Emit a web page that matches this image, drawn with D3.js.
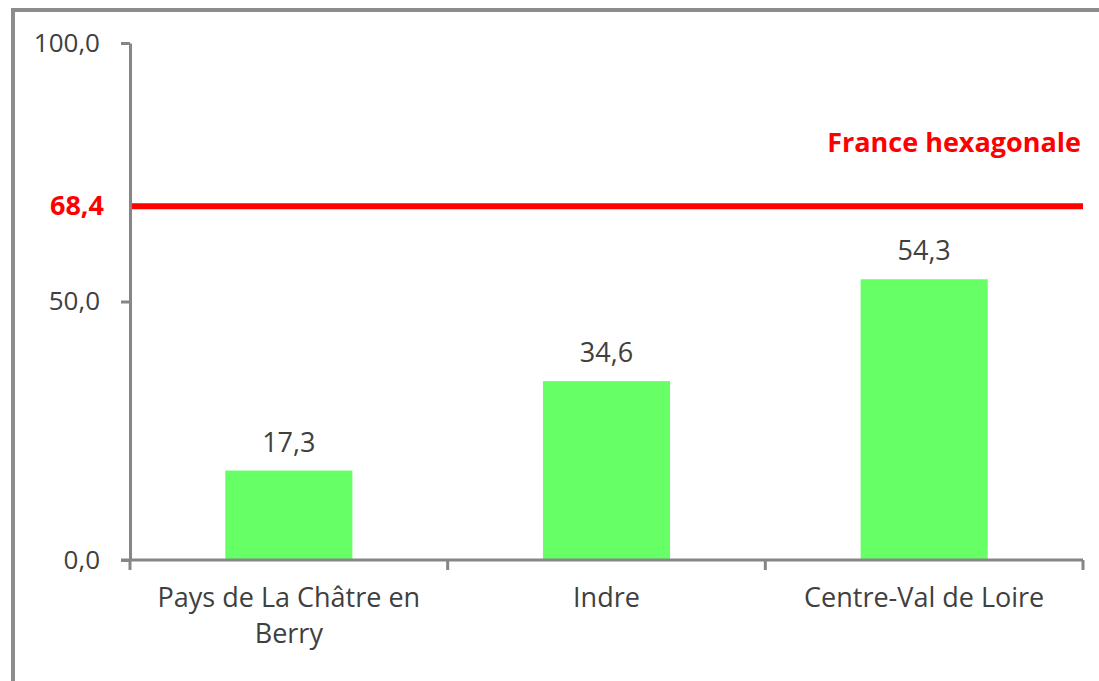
<!DOCTYPE html>
<html lang="fr">
<head>
  <meta charset="utf-8">
  <title>Part des ménages - comparaison</title>
  <script src="https://cdn.jsdelivr.net/npm/d3@7"></script>
  <style>
    body {
      margin: 0;
      background-color: #fff;
    }
    svg text {
      font-family: "Open Sans", sans-serif;
    }
  </style>
</head>
<body>
  <div id="chart"></div>
  <script>
    var width = 1099,
        height = 681;

    // donnees
    var categories = ["Pays de La Châtre en Berry", "Indre", "Centre-Val de Loire"];
    var valeurs = [17.3, 34.6, 54.3];
    var refLabel = "France hexagonale";
    var refValeur = 68.4;
    var yTicks = [0, 50, 100];

    var margin = {left: 130, right: 16, top: 43, bottom: 121};

    var svg = d3.select("#chart")
        .append("svg")
        .attr("width", width)
        .attr("height", height);

    // cadre (coupe a droite et en bas)
    svg.append("path")
        .attr("d", "M13,681 L13,10 L1099,10")
        .attr("fill", "none")
        .attr("stroke", "#8c8c8c")
        .attr("stroke-width", 4);

    var x = d3.scaleBand()
        .domain(categories)
        .range([margin.left, width - margin.right])
        .padding(0);

    var y = d3.scaleLinear()
        .domain([0, 100])
        .range([height - margin.bottom, margin.top]);

    var fmt = function(v) { return d3.format(".1f")(v).replace(".", ","); };

    // barres
    var barW = x.bandwidth() * 0.4;
    svg.selectAll(".bar")
        .data(valeurs)
        .enter().append("rect")
        .attr("class", "bar")
        .attr("x", function(d, i) { return x(categories[i]) + (x.bandwidth() - barW) / 2; })
        .attr("y", function(d) { return y(d); })
        .attr("width", barW)
        .attr("height", function(d) { return y(0) - y(d); })
        .attr("fill", "#66ff66");

    // etiquettes de valeur
    svg.selectAll(".val")
        .data(valeurs)
        .enter().append("text")
        .attr("class", "val")
        .attr("x", function(d, i) { return x(categories[i]) + x.bandwidth() / 2; })
        .attr("y", function(d) { return y(d) - 19; })
        .attr("text-anchor", "middle")
        .attr("font-size", 27)
        .attr("fill", "#404040")
        .text(fmt);

    // axe y
    var yAxis = svg.append("g")
        .attr("transform", "translate(" + margin.left + ",0)")
        .call(d3.axisLeft(y).tickValues(yTicks).tickFormat(fmt).tickSize(9).tickSizeOuter(0));
    yAxis.select(".domain").attr("stroke", "#868686").attr("stroke-width", 3);
    yAxis.selectAll(".tick line").attr("stroke", "#868686").attr("stroke-width", 3);
    yAxis.selectAll(".tick text")
        .attr("x", -30)
        .attr("font-size", 26)
        .attr("fill", "#404040");

    // axe x, graduations aux limites des categories
    var bounds = categories.map(function(c) { return x(c); }).concat([x.range()[1]]);
    var xg = svg.append("g");
    xg.append("line")
        .attr("x1", margin.left - 9).attr("x2", x.range()[1])
        .attr("y1", y(0)).attr("y2", y(0))
        .attr("stroke", "#868686").attr("stroke-width", 3);
    xg.selectAll(".xtick")
        .data(bounds)
        .enter().append("line")
        .attr("x1", function(d) { return d; }).attr("x2", function(d) { return d; })
        .attr("y1", y(0)).attr("y2", y(0) + 10)
        .attr("stroke", "#868686").attr("stroke-width", 3);

    xg.selectAll(".xlab")
        .data(categories)
        .enter().append("text")
        .attr("class", "xlab")
        .attr("x", function(d) { return x(d) + x.bandwidth() / 2; })
        .attr("y", y(0) + 47)
        .attr("text-anchor", "middle")
        .attr("font-size", 27)
        .attr("fill", "#404040")
        .text(function(d) { return d; })
        .call(wrap, 300);

    // ligne de reference
    svg.append("line")
        .attr("x1", margin.left + 2).attr("x2", x.range()[1])
        .attr("y1", y(refValeur)).attr("y2", y(refValeur))
        .attr("stroke", "#ff0000")
        .attr("stroke-width", 6);

    svg.append("text")
        .attr("x", margin.left - 26)
        .attr("y", y(refValeur) + 9)
        .attr("text-anchor", "end")
        .attr("font-size", 27)
        .attr("font-weight", "bold")
        .attr("fill", "#ff0000")
        .text(fmt(refValeur));

    svg.append("text")
        .attr("x", 1081)
        .attr("y", 152)
        .attr("text-anchor", "end")
        .attr("font-size", 27)
        .attr("font-weight", "bold")
        .attr("fill", "#ff0000")
        .text(refLabel);

    function wrap(texts, w) {
      texts.each(function() {
        var text = d3.select(this),
            words = text.text().split(/\s+/),
            line = [],
            lineNo = 0,
            tx = text.attr("x"),
            ty = text.attr("y");
        text.text(null);
        var tspan = text.append("tspan").attr("x", tx).attr("y", ty);
        words.forEach(function(word) {
          line.push(word);
          tspan.text(line.join(" "));
          if (tspan.node().getComputedTextLength() > w && line.length > 1) {
            line.pop();
            tspan.text(line.join(" "));
            line = [word];
            lineNo++;
            tspan = text.append("tspan").attr("x", tx).attr("y", +ty + lineNo * 36).text(word);
          }
        });
      });
    }
  </script>
</body>
</html>
